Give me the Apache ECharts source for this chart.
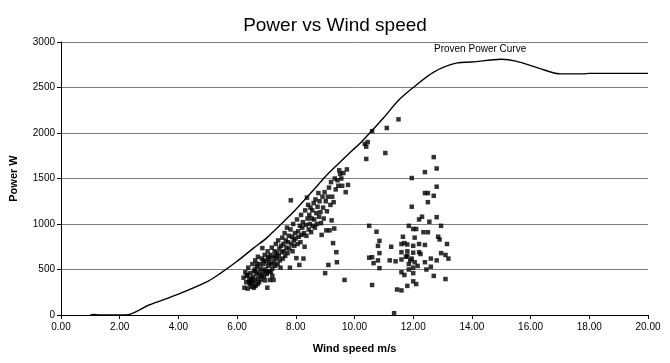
<!DOCTYPE html>
<html>
<head>
<meta charset="utf-8">
<script src="https://cdn.jsdelivr.net/npm/echarts@6/dist/echarts.min.js"></script>
<style>html,body{margin:0;padding:0;background:#fff}#c{width:670px;height:363px}</style>
</head>
<body>
<div id="c"></div>
<script>
const titleText = "Power vs Wind speed";
const xName = "Wind speed m/s";
const yName = "Power W";
const curveName = "Proven Power Curve";

// Proven power curve [wind speed, power]
const curveSpeed = [1.0, 1.1, 1.3, 2.0, 2.2, 3.0, 4.0, 5.0, 5.44, 6.0, 6.56, 7.0, 7.71, 8.0, 8.84, 9.0, 9.93, 10.2, 11.0, 11.5, 12.0, 12.7, 13.5, 14.0, 15.0, 15.5, 16.3, 17.0, 17.8, 18.0, 20.0];
const curvePower = [0, 5, 0, 0, 0, 110, 230, 370, 460, 590, 735, 845, 1065, 1160, 1460, 1520, 1810, 1890, 2170, 2360, 2500, 2670, 2770, 2780, 2810, 2790, 2710, 2650, 2650, 2655, 2655];

// Measured data, low-to-mid wind speeds
const bandSpeed = [6.22, 6.25, 6.28, 6.31, 6.33, 6.36, 6.38, 6.41, 6.43, 6.45, 6.47, 6.49, 6.52, 6.54, 6.55, 6.58, 6.60, 6.62, 6.63, 6.66, 6.68, 6.70, 6.71, 6.73, 6.75, 6.77, 6.79, 6.81, 6.82, 6.84, 6.86, 6.88, 6.90, 6.92, 6.94, 6.96, 6.98, 7.01, 7.03, 7.04, 7.06, 7.08, 7.10, 7.12, 7.14, 7.16, 7.18, 7.20, 7.22, 7.24, 7.26, 7.28, 7.30, 7.32, 7.34, 7.36, 7.38, 7.40, 7.42, 7.44, 7.46, 7.48, 7.50, 7.52, 7.54, 7.56, 7.58, 7.60, 7.62, 7.64, 7.66, 7.68, 7.70, 7.72, 7.74, 7.76, 7.78, 7.80, 7.82, 7.83, 7.85, 7.87, 7.89, 7.91, 7.93, 7.95, 7.97, 7.99, 8.02, 8.04, 8.06, 8.08, 8.10, 8.12, 8.14, 8.16, 8.18, 8.20, 8.22, 8.24, 8.26, 8.28, 8.30, 8.32, 8.34, 8.36, 8.38, 8.40, 8.42, 8.44, 8.46, 8.48, 8.50, 8.52, 8.54, 8.56, 8.58, 8.61, 8.63, 8.65, 8.67, 8.70, 8.72, 8.74, 8.77, 8.79, 8.81, 8.84, 8.86, 8.88, 8.91, 8.93, 8.95, 8.98, 9.00, 9.02, 9.04, 9.06, 9.09, 9.11, 9.13, 9.15, 9.18, 9.20, 9.22, 9.24, 9.27, 9.29, 9.31, 9.33, 9.36, 9.38, 9.40, 9.42, 9.45, 9.48, 9.51, 9.55, 9.58, 9.62, 9.66, 9.70, 9.74, 9.78, 6.50, 6.60, 6.70, 6.90, 7.00, 7.10, 7.20, 7.30, 6.35, 6.45, 6.57, 6.67, 6.85, 6.95, 7.05, 7.15];
const bandPower = [410, 300, 470, 360, 430, 290, 520, 380, 340, 460, 400, 310, 560, 420, 350, 480, 380, 600, 320, 450, 530, 400, 640, 470, 360, 560, 430, 510, 390, 620, 735, 480, 560, 420, 660, 500, 590, 450, 300, 700, 540, 620, 480, 385, 660, 560, 740, 510, 630, 385, 580, 700, 540, 780, 620, 680, 560, 820, 650, 730, 600, 520, 760, 690, 850, 620, 780, 700, 900, 650, 820, 740, 960, 680, 800, 870, 730, 520, 940, 1260, 780, 860, 700, 1000, 820, 760, 900, 840, 625, 1050, 780, 920, 860, 550, 980, 800, 1100, 880, 960, 1020, 620, 900, 750, 1150, 990, 870, 1290, 1060, 1210, 940, 1100, 1000, 1180, 910, 1060, 1150, 980, 1230, 1050, 960, 1270, 1120, 1000, 1190, 1340, 1080, 1250, 1130, 1010, 880, 1300, 1180, 1060, 1350, 460, 1250, 930, 1140, 1300, 550, 1400, 930, 1210, 1460, 1040, 1300, 790, 1240, 950, 1500, 1380, 690, 580, 1480, 1420, 1590, 1550, 1500, 1420, 1560, 385, 1350, 1600, 1430, 390, 500, 340, 600, 470, 580, 430, 650, 440, 360, 300, 560, 440, 380, 640, 470];

// Measured data, high wind speeds
const highSpeed = [11.5, 11.1, 10.6, 10.35, 10.4, 10.45, 11.05, 10.4, 12.7, 12.8, 12.4, 11.95, 12.8, 12.4, 12.5, 12.7, 12.5, 11.95, 12.3, 12.2, 12.8, 12.55, 10.5, 11.85, 12.95, 10.75, 12.0, 12.1, 12.35, 12.5, 11.65, 12.05, 12.85, 12.9, 10.85, 10.8, 11.25, 11.6, 11.7, 11.8, 12.0, 12.2, 12.4, 13.15, 10.85, 11.6, 11.8, 12.0, 12.2, 12.25, 10.5, 10.6, 10.8, 10.65, 11.2, 11.4, 11.6, 11.75, 11.85, 11.95, 12.05, 12.15, 11.8, 11.9, 12.0, 12.4, 12.6, 12.8, 12.95, 13.1, 13.2, 10.85, 11.6, 11.7, 11.85, 12.0, 12.45, 12.6, 10.6, 11.45, 11.6, 11.8, 12.0, 12.1, 12.7, 13.1, 11.35];
const highPower = [2150, 2055, 2020, 1880, 1850, 1900, 1780, 1715, 1735, 1610, 1570, 1505, 1410, 1340, 1340, 1310, 1240, 1190, 1080, 1050, 1075, 1025, 980, 980, 980, 915, 945, 945, 910, 910, 860, 850, 860, 830, 815, 760, 750, 780, 790, 775, 760, 780, 770, 780, 680, 690, 700, 685, 690, 670, 630, 635, 600, 570, 600, 590, 610, 640, 560, 620, 580, 540, 650, 600, 520, 580, 620, 600, 680, 660, 620, 515, 470, 440, 500, 460, 500, 530, 330, 280, 270, 320, 370, 340, 430, 395, 20];

const scatterData = bandSpeed.map((v, i) => [v, bandPower[i]])
  .concat(highSpeed.map((v, i) => [v, highPower[i]]));
const curveData = curveSpeed.map((v, i) => [v, curvePower[i]]);

const font = "'Liberation Sans', Arial, sans-serif";
const chart = echarts.init(document.getElementById('c'), null, {renderer: 'canvas'});
chart.setOption({
  animation: false,
  backgroundColor: '#ffffff',
  title: {
    text: titleText, left: 'center', top: 11,
    textStyle: {fontFamily: font, fontSize: 19, fontWeight: 'normal', color: '#000'}
  },
  grid: {left: 60, right: 22, top: 42, bottom: 48},
  xAxis: {
    type: 'value', min: 0, max: 20, interval: 2,
    name: xName, nameLocation: 'middle', nameGap: 28,
    nameTextStyle: {fontFamily: font, fontSize: 11, fontWeight: 'bold', color: '#000'},
    axisLine: {lineStyle: {color: '#000', width: 1}},
    axisTick: {show: true, inside: false, length: 4, lineStyle: {color: '#000'}},
    axisLabel: {fontFamily: font, fontSize: 10, color: '#000', margin: 7, formatter: v => v.toFixed(2)},
    splitLine: {show: false}
  },
  yAxis: {
    type: 'value', min: 0, max: 3000, interval: 500,
    name: yName, nameLocation: 'middle', nameGap: 42, nameRotate: 90,
    nameTextStyle: {fontFamily: font, fontSize: 11, fontWeight: 'bold', color: '#000'},
    axisLine: {show: true, lineStyle: {color: '#000', width: 1}},
    axisTick: {show: true, inside: false, length: 4, lineStyle: {color: '#000'}},
    axisLabel: {fontFamily: font, fontSize: 10, color: '#000', margin: 6, formatter: v => String(v)},
    splitLine: {show: true, lineStyle: {color: '#808080', width: 1}}
  },
  graphic: [{
    type: 'text', left: 434, top: 44,
    style: {text: curveName, fontFamily: font, fontSize: 10, fill: '#000'}
  }],
  series: [
    {
      type: 'scatter', data: scatterData, symbol: 'rect', symbolSize: 4.5,
      itemStyle: {color: '#000'}, z: 3
    },
    {
      type: 'line', data: curveData, showSymbol: false, smooth: 0.3,
      lineStyle: {color: '#000', width: 1.4}, z: 4
    }
  ]
});
</script>
</body>
</html>
